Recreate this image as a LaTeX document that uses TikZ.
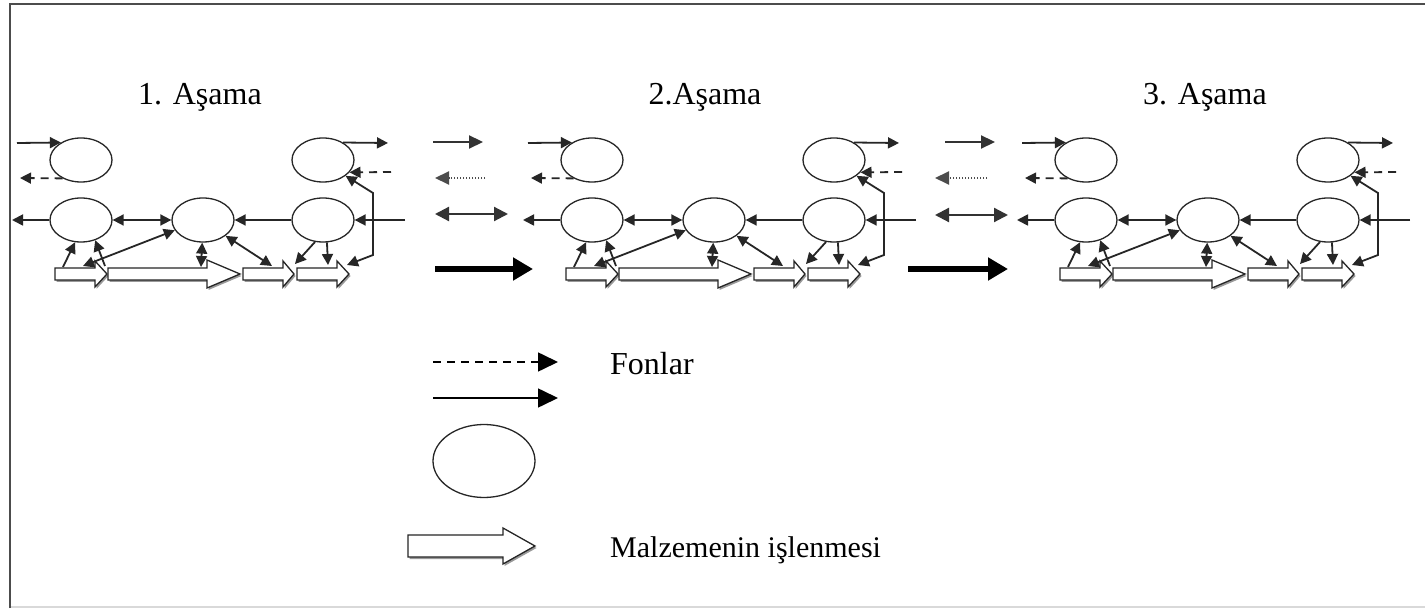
\documentclass[tikz,border=0pt]{standalone}
\usepackage{fontspec}
\setmainfont{Liberation Serif}
\usetikzlibrary{arrows.meta,shapes.geometric}
\tikzset{
  oval/.style={draw=black!85, line width=1.3pt, ellipse, minimum width=62pt, minimum height=44pt, inner sep=0pt},
  flow/.style={line width=1.8pt, draw=black!85, -{Triangle[length=11pt,width=11pt]}},
  flowb/.style={line width=1.8pt, draw=black!85, {Triangle[length=11pt,width=11pt]}-{Triangle[length=11pt,width=11pt]}},
  fund/.style={flow, dash pattern=on 8pt off 6pt},
  midflow/.style={line width=2.2pt, draw=black!80, -{Triangle[length=14pt,width=13pt]}},
  midflowb/.style={line width=2.2pt, draw=black!80, {Triangle[length=14pt,width=14pt]}-{Triangle[length=14pt,width=14pt]}},
  middot/.style={line width=2pt, draw=black!70, dash pattern=on 1.5pt off 1.5pt, -{Triangle[length=14pt,width=13pt]}},
  thick flow/.style={line width=5.5pt, draw=black, -{Triangle[length=20pt,width=22pt]}},
  legflow/.style={line width=1.6pt, draw=black, -{Triangle[length=20pt,width=19pt]}},
  legfund/.style={legflow, dash pattern=on 8pt off 6pt},
  blockline/.style={fill=white, draw=black!85, line width=1.3pt, line join=miter},
  blockshadow/.style={fill=black!40, draw=none},
  title/.style={font=\fontsize{32}{38}\selectfont, inner sep=0pt, anchor=base},
  legtext/.style={inner sep=0pt, anchor=base west},
}
% block arrow: x0, head base, tip, y centre, half body, half head
\newcommand{\blk}[6]{%
  \fill[blockshadow, shift={(1.5,2)}] (#1,#4-#5) -- (#2,#4-#5) -- (#2,#4-#6) -- (#3,#4) -- (#2,#4+#6) -- (#2,#4+#5) -- (#1,#4+#5) -- cycle;
  \filldraw[blockline] (#1,#4-#5) -- (#2,#4-#5) -- (#2,#4-#6) -- (#3,#4) -- (#2,#4+#6) -- (#2,#4+#5) -- (#1,#4+#5) -- cycle;
}
\newcommand{\stagedraw}[2]{%
\begin{scope}[shift={(#2,0)}]
  \node[oval] (#1tl) at (81,160) {};
  \node[oval] (#1tr) at (323,160) {};
  \node[oval] (#1ml) at (81,220) {};
  \node[oval] (#1mc) at (203,220) {};
  \node[oval] (#1mr) at (323,220) {};
  \blk{55}{95}{107}{274}{6}{13}
  \blk{108}{207}{240}{274}{6}{14}
  \blk{243}{283}{294}{274}{6}{13}
  \blk{297}{337}{349}{274}{6}{13}
  \coordinate (#1a) at (17,143);
  \coordinate (#1b) at (20,178);
  \coordinate (#1c) at (12,220);
  \coordinate (#1d) at (388,143);
  \coordinate (#1e) at (391,172);
  \coordinate (#1f) at (405,220);
  \coordinate (#1g) at (373,193);
  \coordinate (#1h) at (373,255);
  \coordinate (#1i) at (347,265);
  \coordinate (#1j) at (63,267);
  \coordinate (#1k) at (105,266);
  \coordinate (#1l) at (83,266);
  \coordinate (#1m) at (201,267);
  \coordinate (#1n) at (272,266);
  \coordinate (#1o) at (295,264);
  \coordinate (#1p) at (328,265);
  \draw[flow] (#1a) -- (#1tl.139);
  \draw[fund] (#1tl.225) -- (#1b);
  \draw[flow] (#1ml) -- (#1c);
  \draw[flowb] (#1ml) -- (#1mc);
  \draw[flow] (#1mr) -- (#1mc);
  \draw[flow] (#1tr.41) -- (#1d);
  \draw[fund] (#1e) -- (#1tr.-25);
  \draw[flow] (#1f) -- (#1mr);
  \draw[flowb] (#1tr.-35) -- (#1g) -- (#1h) -- (#1i);
  \draw[flow] (#1j) -- (#1ml.255);
  \draw[flow] (#1k) -- (#1ml.-55);
  \draw[flowb] (#1l) -- (#1mc.200);
  \draw[flowb] (#1mc.-92) -- (#1m);
  \draw[flowb] (#1mc.-35) -- (#1n);
  \draw[flow] (#1mr.250) -- (#1o);
  \draw[flow] (#1mr.-80) -- (#1p);
\end{scope}}
\begin{document}
\begin{tikzpicture}[x=1pt,y=-1pt]
\useasboundingbox (0,0) rectangle (1425,609);
\fill[white] (0,0) rectangle (1425,609);
\draw[black!15, line width=1.5pt] (10,607) -- (1425,607);
\draw[black!70, line width=2pt] (10,608) -- (10,4) -- (1425,4);

\node[title] (t1) at (200,105) {1. Aşama};
\node[title] (t2) at (705,105) {2.Aşama};
\node[title] (t3) at (1205,105) {3. Aşama};

\stagedraw{s1}{0}
\stagedraw{s2}{511}
\stagedraw{s3}{1005}

% between stage 1 and 2
\coordinate (pa1) at (433,142); \coordinate (pa2) at (483,142);
\coordinate (pb1) at (485,178); \coordinate (pb2) at (435,178);
\coordinate (pc1) at (435,214); \coordinate (pc2) at (508,214);
\coordinate (pd1) at (435,269); \coordinate (pd2) at (533,269);
\draw[midflow] (pa1) -- (pa2);
\draw[middot] (pb1) -- (pb2);
\draw[midflowb] (pc1) -- (pc2);
\draw[thick flow] (pd1) -- (pd2);
% between stage 2 and 3
\coordinate (qa1) at (945,142); \coordinate (qa2) at (995,142);
\coordinate (qb1) at (987,178); \coordinate (qb2) at (935,178);
\coordinate (qc1) at (935,215); \coordinate (qc2) at (1008,215);
\coordinate (qd1) at (908,269); \coordinate (qd2) at (1008,269);
\draw[midflow] (qa1) -- (qa2);
\draw[middot] (qb1) -- (qb2);
\draw[midflowb] (qc1) -- (qc2);
\draw[thick flow] (qd1) -- (qd2);

% legend
\coordinate (la1) at (433,362); \coordinate (la2) at (558,362);
\coordinate (lb1) at (433,398); \coordinate (lb2) at (558,398);
\draw[legfund] (la1) -- (la2);
\draw[legflow] (lb1) -- (lb2);
\node[oval, minimum width=102pt, minimum height=73pt] (lg) at (484,461) {};
\blk{408}{503}{535}{546}{11}{18}
\node[legtext, font=\fontsize{32}{38}\selectfont] (fon) at (610,375) {Fonlar};
\node[legtext, font=\fontsize{30}{36}\selectfont] (mal) at (610,557) {Malzemenin işlenmesi};
\end{tikzpicture}
\end{document}
